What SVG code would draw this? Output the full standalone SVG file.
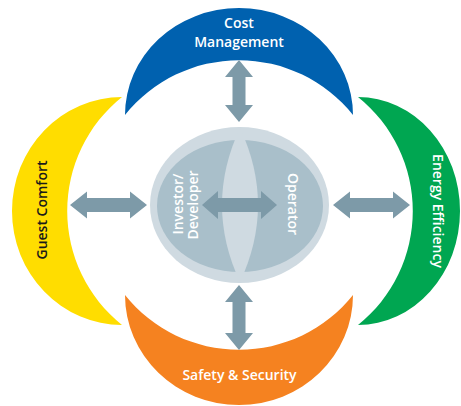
<svg xmlns="http://www.w3.org/2000/svg" width="461" height="406" viewBox="0 0 461 406">
<style>
text{font-family:"Open Sans","Liberation Sans",sans-serif;font-size:14px;font-weight:600;text-anchor:middle}
.w{fill:#ffffff}
.k{fill:#1a1a1a}
.arrow{fill:#7d9aa8}
.ring{fill:#cfdae1}
.core{fill:#a9bfca}
</style>
<rect width="461" height="406" fill="#ffffff"/>
<g id="cost-management">
<path d="M125,115 A114,107 0 0 1 353,115 A146,146 0 0 0 125,115 Z" fill="#0061af"/>
<text class="w" x="239" y="28">Cost</text>
<text class="w" x="239" y="47">Management</text>
</g>
<g id="guest-comfort">
<path d="M122,97 A110,114 0 0 0 122,325 A146,146 0 0 1 122,97 Z" fill="#ffdd00"/>
<text class="k" transform="translate(47,210) rotate(-90)">Guest Comfort</text>
</g>
<g id="energy-efficiency">
<path d="M358,97 A102,114 0 0 1 358,325 A146,146 0 0 0 358,97 Z" fill="#00a651"/>
<text class="w" transform="translate(433,211) rotate(90)">Energy Efficiency</text>
</g>
<g id="safety-security">
<path d="M353,295 A114,110 0 0 1 125,295 A146,146 0 0 0 353,295 Z" fill="#f58220"/>
<text class="w" x="239.5" y="380">Safety &amp; Security</text>
</g>
<g id="center">
<ellipse class="ring" cx="239.5" cy="205" rx="89.5" ry="78"/>
<ellipse class="core" cx="240" cy="206" rx="83" ry="66"/>
<path class="ring" d="M240,128 Q204,205 240,282 Q276,205 240,128 Z"/>
<text class="w" transform="translate(183,204) rotate(-90)">Investor/</text>
<text class="w" transform="translate(198,205) rotate(-90)">Developer</text>
<text class="w" transform="translate(288,204) rotate(90)">Operator</text>
</g>
<g id="connectors">
<path class="arrow" d="M239,60 L253,77 L245.5,77 L245.5,105 L253,105 L239,122 L225,105 L232.5,105 L232.5,77 L225,77 Z"/>
<path class="arrow" d="M239,285 L253,302 L245.5,302 L245.5,333 L253,333 L239,350 L225,333 L232.5,333 L232.5,302 L225,302 Z"/>
<path class="arrow" d="M70,205 L87,191.5 L87,198 L130,198 L130,191.5 L147,205 L130,218.5 L130,212 L87,212 L87,218.5 Z"/>
<path class="arrow" d="M333,205 L350,191.5 L350,198 L393,198 L393,191.5 L410,205 L393,218.5 L393,212 L350,212 L350,218.5 Z"/>
<path class="arrow" d="M202,205 L218,191 L218,198 L261,198 L261,191 L277,205 L261,219 L261,212 L218,212 L218,219 Z"/>
</g>
</svg>
